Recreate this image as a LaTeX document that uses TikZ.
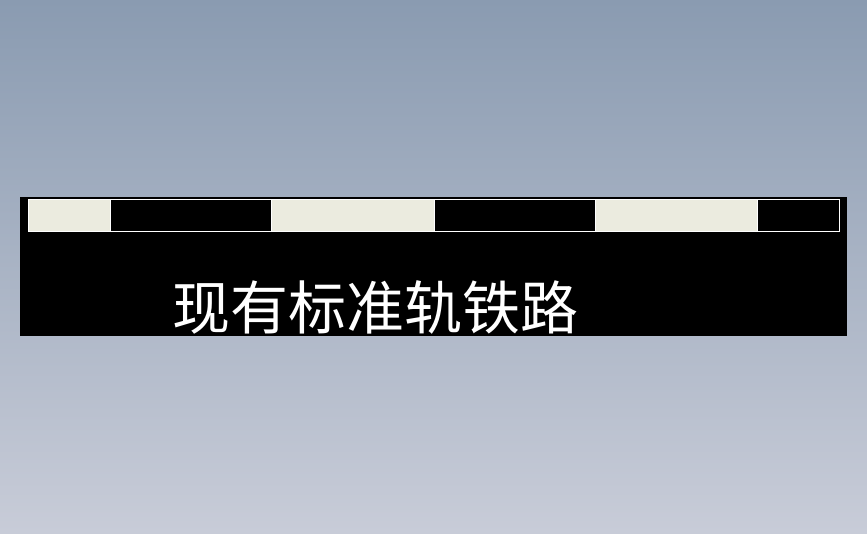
\documentclass[tikz,border=0pt]{standalone}
\usepackage{fontspec}
\newfontfamily\cjk{Noto Sans CJK SC}
\definecolor{bgtop}{RGB}{138,155,177}
\definecolor{bgbot}{RGB}{200,204,216}
\definecolor{railwhite}{RGB}{235,235,223}
\begin{document}
\begin{tikzpicture}[x=1pt,y=-1pt,
  seglight/.style={fill=railwhite,draw=white,line width=1pt},
  segdark/.style={fill=black,draw=white,line width=1pt},
  label/.style={text=white,font=\cjk\fontsize{58}{58}\selectfont,inner sep=0pt}]
\useasboundingbox (0,0) rectangle (867,533);
\shade[top color=bgtop,bottom color=bgbot] (0,0) rectangle (867,533);
\fill[black] (20,197) rectangle (847,336);
\draw[seglight] (28,199.5) rectangle (110,231.5);
\draw[segdark] (110,199.5) rectangle (271,231.5);
\draw[seglight] (271,199.5) rectangle (434,231.5);
\draw[segdark] (434,199.5) rectangle (595,231.5);
\draw[seglight] (595,199.5) rectangle (757,231.5);
\draw[segdark] (757,199.5) rectangle (839,231.5);
\node[label,anchor=base] (title) at (375.5,329) {现有标准轨铁路};
\end{tikzpicture}
\end{document}
